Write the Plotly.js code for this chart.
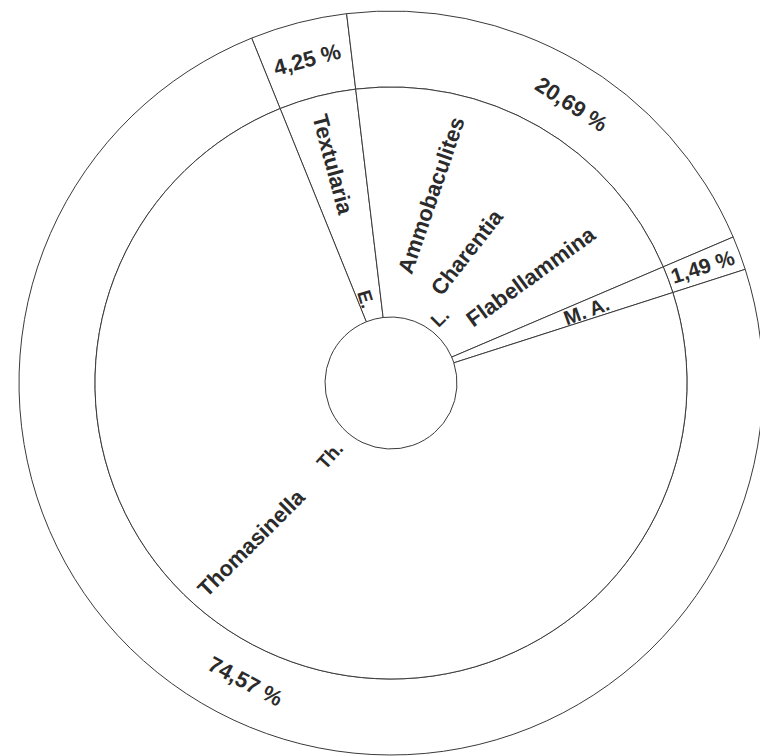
<!DOCTYPE html>
<html>
<head>
<meta charset="utf-8">
<script src="https://cdn.plot.ly/plotly-3.0.1.min.js"></script>
<style>
  html, body { margin: 0; padding: 0; overflow: hidden; background: #fff; }
  #chart { width: 782px; height: 756px; }
</style>
</head>
<body>
<div id="chart"></div>
<script>
// ---- data (clockwise, starting with Textularia) ----
const groups = ['Textularia', 'Ammobaculites – Charentia – Flabellammina', 'M. A.', 'Thomasinella'];
const percents = [4.25, 20.69, 1.49, 74.57];
const percentLabels = ['4,25 %', '20,69 %', '1,49 %', '74,57 %'];
const genusLabels = ['Textularia', 'Ammobaculites', 'Charentia', 'Flabellammina', 'Thomasinella'];
const zoneLabels = ['E.', 'L.', 'M. A.', 'Th.'];

// ---- geometry / style (pixels) ----
const W = 782, H = 756;
const M = { l: 19, r: 19, t: 11, b: 1 };
const plotW = W - M.l - M.r, plotH = H - M.t - M.b;   // 744 x 744
const cx = M.l + plotW / 2, cy = M.t + plotH / 2;
const R_OUT = 372, R_MID = 296, R_IN = 66;
const lineStyle = { color: '#3a3a3a', width: 1 };
const TXT = '#2b2b2b';
const FONT = '"Liberation Sans", Arial, Helvetica, sans-serif';

// label placement: angle clockwise from 12 o'clock (deg), radius (px), text rotation (deg), size
const percentPlace = [
  { a: -14.5, r: 334, rot: -15, s: 22 },
  { a: 33.0, r: 332, rot: 33, s: 22 },
  { a: 69.6, r: 333, rot: -18, s: 21 },
  { a: 206.0, r: 332, rot: 28, s: 22 }
];
const genusPlace = [
  { a: -15.0, r: 226, rot: 75, s: 22 },
  { a: 12.0, r: 192, rot: -71, s: 22 },
  { a: 30.1, r: 151, rot: -52, s: 22 },
  { a: 52.6, r: 176, rot: -36, s: 22 },
  { a: 221.0, r: 212, rot: -45, s: 22 }
];
const zonePlace = [
  { a: -16.8, r: 88, rot: 73, s: 19 },
  { a: 36.6, r: 82, rot: -45, s: 19 },
  { a: 69.8, r: 208, rot: -20, s: 20 },
  { a: 219.9, r: 95, rot: -48, s: 19 }
];

function toPaper(aDeg, r) {
  const t = aDeg * Math.PI / 180;
  const px = cx + r * Math.sin(t);
  const py = cy - r * Math.cos(t);
  return { x: (px - M.l) / plotW, y: 1 - (py - M.t) / plotH };
}

function makeAnn(text, p) {
  const q = toPaper(p.a, p.r);
  return {
    text: text, x: q.x, y: q.y, xref: 'paper', yref: 'paper',
    xanchor: 'center', yanchor: 'middle', showarrow: false,
    textangle: p.rot,
    font: { family: FONT, size: p.s, color: TXT, weight: 'bold' }
  };
}

const annotations = []
  .concat(percentLabels.map((t, i) => makeAnn(t, percentPlace[i])))
  .concat(genusLabels.map((t, i) => makeAnn(t, genusPlace[i])))
  .concat(zoneLabels.map((t, i) => makeAnn(t, zonePlace[i])));

const white = percents.map(() => '#ffffff');
const midFrac = (R_OUT - R_MID) / (2 * R_OUT);

const outerRing = {
  type: 'pie', labels: groups, values: percents, sort: false,
  direction: 'clockwise', rotation: -22,
  hole: R_MID / R_OUT,
  domain: { x: [0, 1], y: [0, 1] },
  marker: { colors: white, line: lineStyle },
  textinfo: 'none', hoverinfo: 'none', showlegend: false
};
const innerRing = {
  type: 'pie', labels: groups, values: percents, sort: false,
  direction: 'clockwise', rotation: -22,
  hole: R_IN / R_MID,
  domain: { x: [midFrac, 1 - midFrac], y: [midFrac, 1 - midFrac] },
  marker: { colors: white, line: lineStyle },
  textinfo: 'none', hoverinfo: 'none', showlegend: false
};

Plotly.newPlot('chart', [outerRing, innerRing], {
  width: W, height: H,
  margin: M,
  paper_bgcolor: '#ffffff', plot_bgcolor: '#ffffff',
  showlegend: false,
  annotations: annotations
}, { staticPlot: true, displayModeBar: false });
</script>
</body>
</html>
